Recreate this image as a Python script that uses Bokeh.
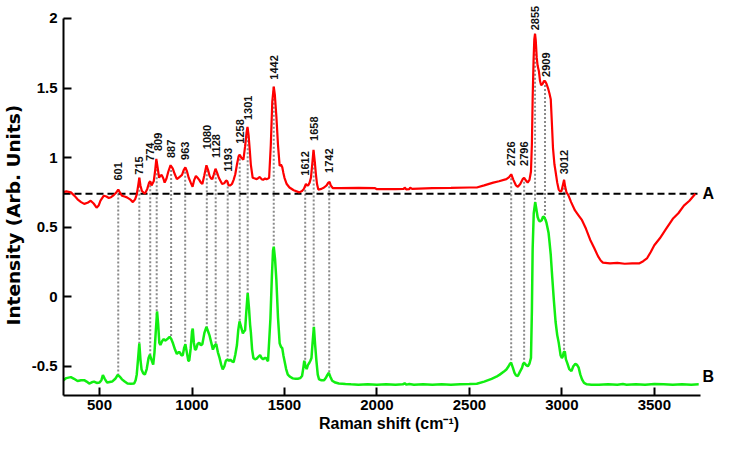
import numpy as np
from bokeh.plotting import figure
from bokeh.models import FixedTicker, Range1d, ColumnDataSource, Title
from bokeh.embed import file_html
from bokeh.resources import INLINE
from bokeh.core.properties import value

# Spectrum A (red)
x_a = [305, 320, 345, 365, 381, 400, 417, 435, 452, 468, 484, 495, 505, 523, 537, 550, 562, 573, 588, 601,
       612, 621, 635, 648, 665, 680, 692, 701, 709, 715, 721, 729, 745, 758, 768, 774, 781, 793, 800, 807,
       814, 822, 829, 836, 845, 852, 862, 872, 884, 896, 907, 918, 932, 946, 955, 964, 973, 982, 993, 1003,
       1012, 1021, 1030, 1039, 1048, 1056, 1066, 1078, 1087, 1095, 1103, 1110, 1118, 1127, 1136, 1145, 1155, 1163, 1174, 1184,
       1191, 1198, 1207, 1216, 1225, 1234, 1243, 1252, 1258, 1266, 1278, 1287, 1295, 1300, 1306, 1312, 1318, 1328, 1340, 1350,
       1360, 1367, 1376, 1385, 1395, 1403, 1411, 1417, 1426, 1434, 1442, 1448, 1456, 1465, 1474, 1481, 1488, 1494, 1500, 1512,
       1527, 1550, 1580, 1595, 1605, 1616, 1622, 1628, 1636, 1643, 1650, 1657, 1664, 1670, 1676, 1683, 1700, 1714, 1728, 1737,
       1744, 1750, 1762, 1800, 1900, 1990, 2000, 2100, 2145, 2150, 2158, 2175, 2180, 2190, 2300, 2400, 2500, 2540, 2580, 2629,
       2660, 2700, 2715, 2726, 2738, 2752, 2762, 2775, 2788, 2796, 2806, 2815, 2825, 2833, 2838, 2842, 2847, 2851, 2855, 2859,
       2864, 2869, 2876, 2882, 2888, 2896, 2903, 2909, 2917, 2925, 2933, 2940, 2946, 2952, 2960, 2966, 2975, 2983, 2992, 2998,
       3005, 3012, 3018, 3025, 3035, 3050, 3071, 3090, 3109, 3130, 3153, 3175, 3196, 3210, 3222, 3260, 3300, 3340, 3380, 3420,
       3440, 3460, 3480, 3500, 3530, 3560, 3600, 3630, 3660, 3690, 3722]
y_a = [0.752, 0.757, 0.75, 0.725, 0.70, 0.68, 0.667, 0.675, 0.69, 0.67, 0.64, 0.655, 0.69, 0.726, 0.72, 0.71, 0.715, 0.726, 0.745, 0.77,
       0.745, 0.726, 0.72, 0.714, 0.70, 0.68, 0.70, 0.733, 0.80, 0.855, 0.80, 0.76, 0.74, 0.775, 0.82, 0.83, 0.80, 0.83, 0.90, 0.99,
       0.93, 0.855, 0.87, 0.875, 0.85, 0.82, 0.85, 0.90, 0.945, 0.92, 0.88, 0.845, 0.86, 0.875, 0.91, 0.93, 0.90, 0.855, 0.82, 0.79,
       0.84, 0.868, 0.855, 0.84, 0.82, 0.81, 0.87, 0.945, 0.91, 0.868, 0.85, 0.845, 0.88, 0.92, 0.89, 0.855, 0.83, 0.81, 0.815, 0.835,
       0.83, 0.80, 0.80, 0.81, 0.84, 0.88, 0.95, 1.01, 1.02, 1.00, 0.985, 1.08, 1.18, 1.22, 1.16, 1.06, 0.95, 0.855, 0.85, 0.845,
       0.855, 0.86, 0.845, 0.84, 0.85, 0.845, 0.85, 0.855, 1.09, 1.40, 1.51, 1.45, 1.30, 1.09, 0.94, 0.95, 0.93, 0.89, 0.855, 0.81,
       0.785, 0.765, 0.75, 0.76, 0.775, 0.81, 0.80, 0.80, 0.82, 0.855, 0.95, 1.056, 0.97, 0.88, 0.81, 0.77, 0.775, 0.785, 0.80, 0.82,
       0.825, 0.80, 0.78, 0.78, 0.782, 0.78, 0.773, 0.773, 0.775, 0.785, 0.772, 0.774, 0.784, 0.775, 0.78, 0.782, 0.785, 0.785, 0.80, 0.82,
       0.83, 0.845, 0.86, 0.88, 0.84, 0.80, 0.79, 0.81, 0.845, 0.855, 0.835, 0.82, 0.84, 0.90, 1.10, 1.42, 1.70, 1.85, 1.89, 1.84,
       1.72, 1.66, 1.62, 1.55, 1.52, 1.53, 1.55, 1.55, 1.53, 1.50, 1.46, 1.42, 1.25, 1.07, 0.95, 0.90, 0.82, 0.77, 0.755, 0.76,
       0.80, 0.84, 0.79, 0.75, 0.73, 0.68, 0.62, 0.585, 0.55, 0.49, 0.41, 0.35, 0.29, 0.26, 0.245, 0.24, 0.243, 0.237, 0.24, 0.24,
       0.255, 0.275, 0.32, 0.37, 0.42, 0.48, 0.56, 0.60, 0.655, 0.69, 0.74]

# Spectrum B (green)
x_b = [305, 320, 345, 362, 381, 400, 417, 430, 444, 458, 470, 485, 500, 510, 518, 528, 541, 555, 568, 585,
       598, 610, 621, 636, 651, 670, 687, 695, 701, 708, 715, 721, 727, 736, 745, 755, 765, 772, 780, 790,
       797, 804, 811, 817, 823, 829, 838, 847, 854, 861, 870, 879, 888, 897, 908, 918, 926, 934, 942, 950,
       957, 964, 972, 980, 985, 993, 1000, 1004, 1010, 1016, 1021, 1030, 1039, 1048, 1056, 1067, 1078, 1087, 1095, 1104,
       1113, 1122, 1131, 1140, 1149, 1158, 1166, 1175, 1183, 1190, 1200, 1207, 1216, 1225, 1234, 1243, 1250, 1257, 1266, 1275,
       1281, 1287, 1294, 1301, 1308, 1314, 1318, 1325, 1332, 1341, 1350, 1360, 1368, 1376, 1385, 1393, 1400, 1406, 1411, 1418,
       1424, 1432, 1438, 1442, 1449, 1456, 1465, 1474, 1481, 1488, 1494, 1500, 1509, 1518, 1530, 1545, 1560, 1572, 1585, 1595,
       1601, 1607, 1613, 1620, 1627, 1634, 1640, 1646, 1652, 1659, 1666, 1673, 1680, 1687, 1700, 1714, 1725, 1733, 1740, 1748,
       1758, 1775, 1794, 1830, 1860, 1900, 1950, 2000, 2050, 2100, 2140, 2150, 2160, 2175, 2200, 2250, 2300, 2350, 2400, 2450,
       2500, 2540, 2580, 2620, 2646, 2664, 2685, 2700, 2712, 2720, 2726, 2735, 2744, 2752, 2762, 2773, 2785, 2791, 2797, 2806,
       2816, 2825, 2833, 2838, 2842, 2848, 2856, 2862, 2869, 2875, 2881, 2891, 2898, 2904, 2911, 2917, 2928, 2934, 2940, 2948,
       2957, 2966, 2975, 2983, 2993, 3000, 3005, 3010, 3016, 3022, 3029, 3040, 3052, 3062, 3073, 3082, 3091, 3100, 3109, 3120,
       3135, 3160, 3200, 3250, 3300, 3330, 3350, 3400, 3450, 3500, 3550, 3600, 3650, 3700, 3740]
y_b = [-0.60, -0.585, -0.578, -0.59, -0.606, -0.60, -0.60, -0.61, -0.624, -0.615, -0.61, -0.62, -0.617, -0.60, -0.563, -0.59, -0.617, -0.613, -0.61, -0.59,
       -0.563, -0.575, -0.594, -0.61, -0.624, -0.625, -0.624, -0.60, -0.56, -0.45, -0.335, -0.45, -0.523, -0.55, -0.56, -0.52, -0.44, -0.417, -0.45, -0.488,
       -0.40, -0.25, -0.106, -0.20, -0.33, -0.347, -0.32, -0.304, -0.315, -0.31, -0.30, -0.288, -0.305, -0.335, -0.38, -0.412, -0.40, -0.40, -0.42, -0.42,
       -0.37, -0.342, -0.40, -0.46, -0.46, -0.37, -0.25, -0.229, -0.33, -0.38, -0.38, -0.34, -0.33, -0.35, -0.34, -0.26, -0.217, -0.25, -0.28, -0.33,
       -0.38, -0.35, -0.34, -0.40, -0.44, -0.49, -0.523, -0.50, -0.46, -0.452, -0.46, -0.452, -0.465, -0.47, -0.417, -0.347, -0.24, -0.177, -0.22, -0.264,
       -0.25, -0.24, -0.10, 0.026, -0.08, -0.20, -0.252, -0.38, -0.44, -0.45, -0.445, -0.43, -0.42, -0.44, -0.45, -0.44, -0.44, -0.455, -0.464, -0.30,
       -0.158, 0.15, 0.33, 0.36, 0.27, 0.125, -0.15, -0.335, -0.36, -0.37, -0.42, -0.46, -0.52, -0.56, -0.575, -0.587, -0.59, -0.59, -0.585, -0.57,
       -0.52, -0.46, -0.50, -0.52, -0.49, -0.476, -0.46, -0.44, -0.33, -0.217, -0.35, -0.464, -0.56, -0.594, -0.60, -0.60, -0.58, -0.56, -0.547, -0.575,
       -0.604, -0.617, -0.624, -0.628, -0.63, -0.632, -0.63, -0.633, -0.63, -0.632, -0.63, -0.622, -0.632, -0.628, -0.632, -0.63, -0.633, -0.63, -0.632, -0.63,
       -0.628, -0.625, -0.61, -0.59, -0.575, -0.56, -0.54, -0.523, -0.50, -0.48, -0.476, -0.51, -0.547, -0.565, -0.57, -0.54, -0.51, -0.48, -0.476, -0.49,
       -0.50, -0.48, -0.44, -0.10, 0.34, 0.60, 0.68, 0.63, 0.573, 0.55, 0.54, 0.55, 0.575, 0.573, 0.555, 0.53, 0.46, 0.384, 0.30, 0.14,
       -0.03, -0.18, -0.276, -0.33, -0.42, -0.44, -0.43, -0.40, -0.394, -0.45, -0.476, -0.52, -0.535, -0.50, -0.483, -0.49, -0.51, -0.56, -0.594, -0.62,
       -0.63, -0.632, -0.633, -0.63, -0.632, -0.628, -0.632, -0.63, -0.632, -0.628, -0.63, -0.632, -0.63, -0.632, -0.63]

# Marked peaks, where each label sits (cm^-1) and the height at which it starts
peaks = [601, 715, 774, 809, 887, 963, 1080, 1128, 1193, 1258, 1301, 1442, 1612, 1658, 1742, 2726, 2796, 2855, 2909, 3012]
peak_label_x = [601, 713, 771, 816, 887, 963, 1080, 1128, 1193, 1258, 1301, 1442, 1612, 1658, 1742, 2726, 2796, 2855, 2912, 3012]
peak_label_y = [0.835, 0.877, 0.976, 1.047, 0.997, 0.983, 1.06, 0.997, 0.898, 1.10, 1.27, 1.56, 0.87, 1.12, 0.89, 0.94, 0.94, 1.915, 1.58, 0.88]

baseline_a = 0.74
x_start, x_axis_end = 305, 3750
y_bottom, y_axis_top = -0.71, 2.0
x_ticks = [500, 1000, 1500, 2000, 2500, 3000, 3500]
y_ticks = [-0.5, 0, 0.5, 1, 1.5, 2]
y_tick_labels = ["-0.5", "0", "0.5", "1", "1.5", "2"]

FONT = "Liberation Sans"
W, H = 714, 434
left_b, bottom_b, top_pad, right_pad = 61, 38, 18, 14
frame_w = W - left_b
frame_h = H - bottom_b
# extend the ranges so that texts beyond the axes' ends stay visible
x_ppu = (frame_w - right_pad) / (x_axis_end - x_start)
y_ppu = (frame_h - top_pad) / (y_axis_top - y_bottom)
x_end = x_axis_end + right_pad / x_ppu
y_end = y_axis_top + top_pad / y_ppu

p = figure(width=W, height=H, output_backend="svg", toolbar_location=None,
           x_range=Range1d(x_start, x_end), y_range=Range1d(y_bottom, y_end),
           min_border_left=left_b, min_border_right=0, min_border_top=0, min_border_bottom=bottom_b)
p.outline_line_color = None
p.xgrid.visible = False
p.ygrid.visible = False

# dotted guide lines from spectrum A down to spectrum B
ya_at = np.interp(peaks, x_a, y_a)
yb_at = np.interp(peaks, x_b, y_b)
seg_src = ColumnDataSource(dict(x=peaks, y0=ya_at, y1=yb_at))
p.segment(x0="x", y0="y0", x1="x", y1="y1", source=seg_src,
          line_color="#8a8a8a", line_width=2, line_dash="2 2")

# dashed reference line of A
p.segment(x0=[x_start], y0=[baseline_a], x1=[x_axis_end], y1=[baseline_a],
          line_color="black", line_width=2, line_dash="7 4")

p.line(x_a, y_a, line_color="#ff0000", line_width=2.2)
p.line(x_b, y_b, line_color="#11ee11", line_width=2.5)

lab_src = ColumnDataSource(dict(x=peak_label_x, y=peak_label_y, t=[str(v) for v in peaks]))
p.text(x="x", y="y", text="t", source=lab_src, angle=np.pi / 2,
       text_align="left", text_baseline="middle",
       text_font=value(FONT), text_font_style="bold", text_font_size=value("11px"),
       text_color="#111111")

p.text(x=[x_axis_end], y=[baseline_a], text=["A"], x_offset=2,
       text_font=value(FONT), text_font_style="bold", text_font_size=value("16px"),
       text_baseline="middle", text_align="left", text_color="black")
p.text(x=[x_axis_end], y=[y_b[-1]], text=["B"], x_offset=2, y_offset=1,
       text_font=value(FONT), text_font_style="bold", text_font_size=value("16px"),
       text_baseline="bottom", text_align="left", text_color="black")

p.xaxis.ticker = FixedTicker(ticks=x_ticks)
p.yaxis.ticker = FixedTicker(ticks=y_ticks)
p.yaxis.major_label_overrides = {t: l for t, l in zip(y_ticks, y_tick_labels)}
p.xaxis.bounds = (x_start, x_axis_end)
p.yaxis.bounds = (y_bottom, y_axis_top)

for ax in (p.xaxis[0], p.yaxis[0]):
    ax.axis_line_width = 2
    ax.axis_line_color = "black"
    ax.major_tick_line_width = 2
    ax.major_tick_line_color = "black"
    ax.major_tick_in = 8
    ax.major_tick_out = 0
    ax.minor_tick_line_color = None
    ax.major_label_text_font = FONT
    ax.major_label_text_font_style = "bold"
    ax.major_label_text_font_size = "15px"
    ax.major_label_text_color = "black"

p.xaxis.axis_label = "Raman shift (cm⁻¹)"
p.xaxis.axis_label_text_font = FONT
p.xaxis.axis_label_text_font_style = "bold"
p.xaxis.axis_label_text_font_size = "16px"
p.xaxis.axis_label_text_color = "black"
p.xaxis.major_label_standoff = 4
p.xaxis.axis_label_standoff = 2
p.yaxis.major_label_standoff = 6

# y-axis title, centred on the drawn axis rather than on the enlarged frame
y_title_size = 18.5
y_title_len = 238
axis_mid_from_bottom = (frame_h - top_pad) / 2
p.add_layout(Title(text="Intensity (Arb. Units)", align="left", vertical_align="top",
                   offset=axis_mid_from_bottom - y_title_len / 2,
                   text_font="DejaVu Sans", text_font_style="bold",
                   text_font_size=f"{y_title_size}px", text_color="black",
                   standoff=5), "left")

open("out.html", "w").write(file_html(p, INLINE))
